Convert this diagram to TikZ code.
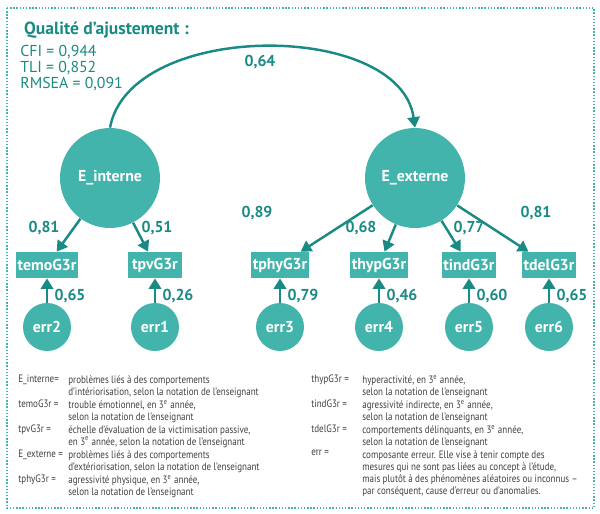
\documentclass[tikz,border=0pt]{standalone}
\usepackage{fontspec}
\setmainfont{PT Sans}
\newfontfamily\legfont{PT Sans}[FakeStretch=0.84]
\usetikzlibrary{arrows.meta,positioning}
\definecolor{teal1}{HTML}{43B4AB}
\definecolor{teal2}{HTML}{1A8A84}
\tikzset{
  lat/.style={circle,fill=teal1,minimum size=2cm,text=white,font=\bfseries\small},
  obs/.style={rectangle,fill=teal1,minimum width=1.1cm,minimum height=0.52cm,text=white,font=\bfseries\small,inner sep=1pt},
  err/.style={circle,fill=teal1,minimum size=0.96cm,text=white,font=\bfseries\small},
  arr/.style={teal2,line width=1.4pt,-{Triangle[length=6pt,width=7pt]}},
  val/.style={text=teal2,font=\bfseries\small},
  key/.style={anchor=north west,font=\legfont\fontsize{6.1}{6.9}\selectfont,text=black!75,inner sep=0pt},
  desc/.style={key,align=left}
}
\begin{document}
\begin{tikzpicture}[x=0.02cm,y=-0.02cm]
\useasboundingbox (0,0) rectangle (600,514);
\draw[teal1,densely dotted,line width=0.8pt] (7,8) rectangle (594,508);

% fit indices
\node[anchor=west,text=teal2,font=\bfseries] (title) at (18,30) {Qualité d’ajustement :};
\node[anchor=north west,text=teal2,font=\small,align=left,inner sep=0pt] (fit) at (20,45)
  {CFI = 0,944\\[-2pt]TLI = 0,852\\[-2pt]RMSEA = 0,091};

% latent variables
\node[lat] (int) at (110,178) {E\_interne};
\node[lat] (ext) at (415,178) {E\_externe};
\draw[arr] (int.north) .. controls (130,20) and (400,20) .. (ext.north);
\node[val] (cov) at (260,62) {0,64};

% indicators and errors
\foreach \n/\x/\e/\r in {temo/47/2/{0,65}, tpv/155/1/{0,26}, tphy/280/3/{0,79}, thyp/379/4/{0,46}, tind/469/5/{0,60}, tdel/549/6/{0,65}}{
  \node[obs] (\n) at (\x,265) {\n G3r};
  \node[err] (e\n) at (\x,327) {err\e};
  \draw[arr] (e\n) -- (\n);
  \node[val] at (\x+23,296) {\r};
}
\draw[arr] (int) -- (temo);
\draw[arr] (int) -- (tpv);
\foreach \n in {tphy,thyp,tind,tdel} \draw[arr] (ext) -- (\n);
\node[val] at (44,228) {0,81};
\node[val] at (157,228) {0,51};
\node[val] at (257,213) {0,89};
\node[val] at (361,228) {0,68};
\node[val] at (469,228) {0,77};
\node[val] at (536,213) {0,81};

% legend
\foreach \k/\d/\y in {E\_interne=/{problèmes liés à des comportements\\d’intériorisation, selon la notation de l’enseignant}/375,
  temoG3r =/{trouble émotionnel, en 3\textsuperscript{e} année,\\selon la notation de l’enseignant}/400,
  tpvG3r =/{échelle d’évaluation de la victimisation passive,\\en 3\textsuperscript{e} année, selon la notation de l’enseignant}/425,
  E\_externe =/{problèmes liés à des comportements\\d’extériorisation, selon la notation de l’enseignant}/450,
  tphyG3r =/{agressivité physique, en 3\textsuperscript{e} année,\\selon la notation de l’enseignant}/475}{
  \node[key] at (18,\y) {\k};
  \node[desc] at (68,\y) {\d};
}
\foreach \k/\d/\y in {thypG3r =/{hyperactivité, en 3\textsuperscript{e} année,\\selon la notation de l’enseignant}/375,
  tindG3r =/{agressivité indirecte, en 3\textsuperscript{e} année,\\selon la notation de l’enseignant}/400,
  tdelG3r =/{comportements délinquants, en 3\textsuperscript{e} année,\\selon la notation de l’enseignant}/425,
  err =/{composante erreur. Elle vise à tenir compte des\\mesures qui ne sont pas liées au concept à l’étude,\\mais plutôt à des phénomènes aléatoires ou inconnus –\\par conséquent, cause d’erreur ou d’anomalies.}/450}{
  \node[key] at (311,\y) {\k};
  \node[desc] at (362,\y) {\d};
}
\end{tikzpicture}
\end{document}
